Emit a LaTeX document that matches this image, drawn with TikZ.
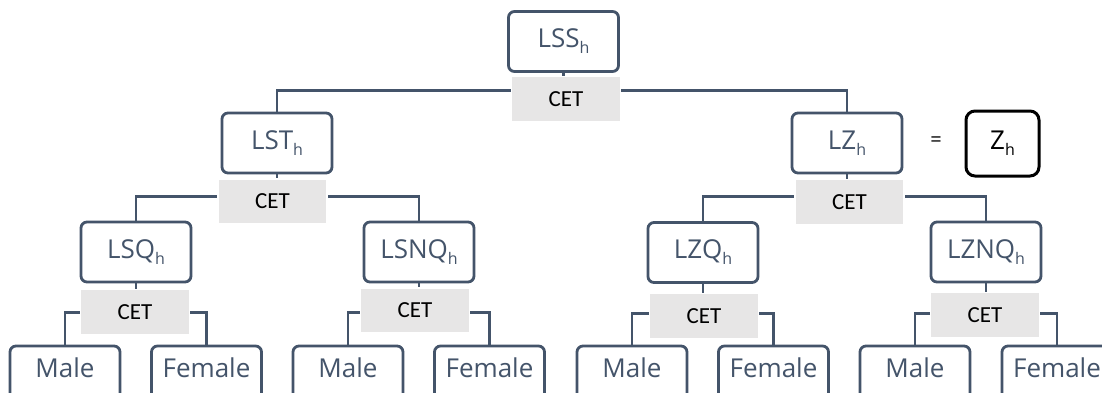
\documentclass[tikz,border=0pt]{standalone}
\usepackage{fontspec}
\setmainfont{Open Sans}
\newfontfamily\cetfont{Carlito}
\definecolor{slate}{HTML}{44546A}
\definecolor{cetgray}{HTML}{E7E6E6}
\newcommand\subh{\raisebox{-6pt}{\fontsize{16}{16}\selectfont h}}
\begin{document}
\begin{tikzpicture}[x=1pt,y=-1pt,
 box/.style={draw=slate, line width=2.8pt, rounded corners=6pt, minimum width=110pt, minimum height=60pt, inner sep=0pt, text=slate, font=\fontsize{26}{30}\selectfont},
 leaf/.style={box, minimum height=80pt},
 cetbox/.style={fill=cetgray, draw=white, line width=1.5pt, minimum width=109pt, minimum height=45pt, inner sep=0pt, font=\cetfont\fontsize{23}{26}\selectfont},
 conn/.style={draw=slate, line width=2.6pt},
 lbl/.style={text=slate, font=\fontsize{26}{30}\selectfont, inner sep=0pt}]
\clip (0,0) rectangle (1102,392);
\fill[white] (0,0) rectangle (1102,392);
% main boxes
\node[box] (lss) at (563.5,41.5) {LSS\subh};
\node[box] (lst) at (277,143) {LST\subh};
\node[box] (lz) at (847,143) {LZ\subh};
\node[box] (lsq) at (136,252) {LSQ\subh};
\node[box] (lsnq) at (419,252) {LSNQ\subh};
\node[box] (lzq) at (703,252.5) {LZQ\subh};
\node[box] (lznq) at (986,252) {LZNQ\subh};
% leaves
\node[leaf] (m1) at (65,386) {};
\node[leaf] (f1) at (206.5,386) {};
\node[leaf] (m2) at (348,386) {};
\node[leaf] (f2) at (489.5,386) {};
\node[leaf] (m3) at (632,386) {};
\node[leaf] (f3) at (773.5,386) {};
\node[leaf] (m4) at (915,386) {};
\node[leaf] (f4) at (1057,386) {};
\node[lbl, anchor=base] (m1t) at (65,377) {Male};
\node[lbl, anchor=base] (f1t) at (206.5,377) {Female};
\node[lbl, anchor=base] (m2t) at (348,377) {Male};
\node[lbl, anchor=base] (f2t) at (489.5,377) {Female};
\node[lbl, anchor=base] (m3t) at (632,377) {Male};
\node[lbl, anchor=base] (f3t) at (773.5,377) {Female};
\node[lbl, anchor=base] (m4t) at (915,377) {Male};
\node[lbl, anchor=base] (f4t) at (1057,377) {Female};
% horizontal connectors
\draw[conn] (lst.north) -- ++(0,-21) -| (lz.north);
\draw[conn] (lsq.north) -- ++(0,-24) -| (lsnq.north);
\draw[conn] (lzq.north) -- ++(0,-24.5) -| (lznq.north);
\draw[conn] (m1.north) -- ++(0,-32) -| (f1.north);
\draw[conn] (m2.north) -- ++(0,-32) -| (f2.north);
\draw[conn] (m3.north) -- ++(0,-31) -| (f3.north);
\draw[conn] (m4.north) -- ++(0,-31) -| (f4.north);
% CET boxes
\node[cetbox] (c0) at (566,99) {CET};
\node[cetbox] (c1) at (272.5,201.5) {CET};
\node[cetbox] (c2) at (849.5,202) {CET};
\node[cetbox] (c3) at (135,312) {CET};
\node[cetbox] (c4) at (415,310.5) {CET};
\node[cetbox] (c5) at (704,316) {CET};
\node[cetbox] (c6) at (985,315) {CET};
% parent to CET
\draw[conn] (lss.south) -- (lss.south |- c0.north);
\draw[conn] (lst.south) -- (lst.south |- c1.north);
\draw[conn] (lz.south) -- (lz.south |- c2.north);
\draw[conn] (lsq.south) -- (lsq.south |- c3.north);
\draw[conn] (lsnq.south) -- (lsnq.south |- c4.north);
\draw[conn] (lzq.south) -- (lzq.south |- c5.north);
\draw[conn] (lznq.south) -- (lznq.south |- c6.north);
% Z_h
\node[font=\fontsize{20}{24}\selectfont, inner sep=0pt] (eq) at (936,142) {=};
\node[draw=black, line width=3pt, rounded corners=9pt, minimum width=73pt, minimum height=65pt, inner sep=0pt, font=\fontsize{26}{30}\selectfont] (zh) at (1002.5,143.5) {Z\subh};
\end{tikzpicture}
\end{document}
